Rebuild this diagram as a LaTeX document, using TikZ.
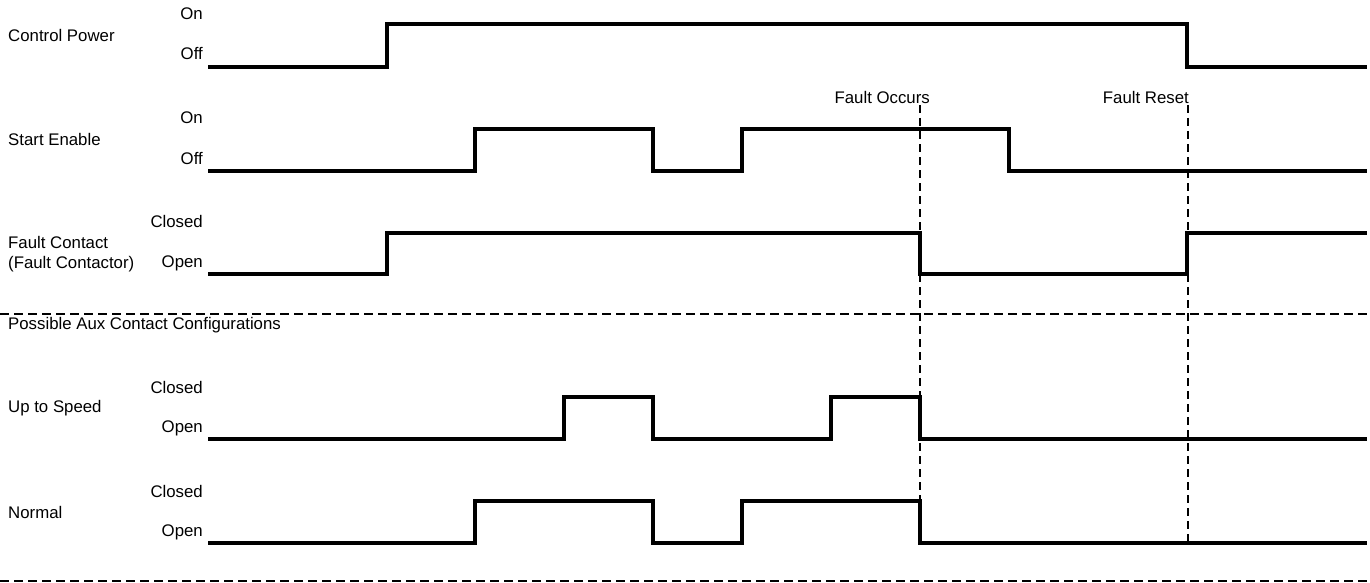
\documentclass[tikz,border=0pt]{standalone}
\usepackage{fontspec}
\setmainfont{Liberation Sans}
\usetikzlibrary{positioning}

\begin{document}
\begin{tikzpicture}[x=1pt, y=-1pt, font=\fontsize{16.8}{20}\selectfont]
    \tikzstyle{signal} = [draw, line width=4.2pt, line join=miter]
    \tikzstyle{divider} = [draw, line width=1.3pt, dash pattern=on 9pt off 5pt]
    \tikzstyle{marker} = [draw, line width=1.3pt, dash pattern=on 8pt off 5pt]
    \tikzstyle{signame} = [anchor=west, inner sep=0pt, align=left]
    \tikzstyle{levelname} = [anchor=east, inner sep=0pt]
    \tikzstyle{eventname} = [anchor=east, inner sep=0pt]

    \useasboundingbox (0,0) rectangle (1370,583);

    % signal names
    \node [signame] (power) at (8,35) {Control Power};
    \node [signame] (enable) at (8,139) {Start Enable};
    \node [signame] (fault) at (8,254) {Fault Contact\\(Fault Contactor)};
    \node [signame] (aux) at (8,325) {Possible Aux Contact Configurations};
    \node [signame] (speed) at (8,408) {Up to Speed};
    \node [signame] (normal) at (8,512) {Normal};

    % signal levels
    \node [levelname] (power on) at (203,14) {On};
    \node [levelname] (power off) at (203,54) {Off};
    \node [levelname] (enable on) at (203,118) {On};
    \node [levelname] (enable off) at (203,159) {Off};
    \node [levelname] (fault closed) at (203,221) {Closed};
    \node [levelname] (fault open) at (203,263) {Open};
    \node [levelname] (speed closed) at (203,387) {Closed};
    \node [levelname] (speed open) at (203,428) {Open};
    \node [levelname] (normal closed) at (203,491) {Closed};
    \node [levelname] (normal open) at (203,532) {Open};

    % events
    \node [eventname] (occurs) at (930,97) {Fault Occurs};
    \node [eventname] (reset) at (1189,97) {Fault Reset};

    % waveforms
    \path [signal] (208,67) -| (387,24) -| (1187,67) -- (1367,67);
    \path [signal] (208,171) -| (475,129) -| (653,171) -| (742,129) -| (1009,171) -- (1367,171);
    \path [signal] (208,274) -| (387,233) -| (920,274) -| (1187,233) -- (1367,233);
    \path [signal] (208,439) -| (564,397) -| (653,439) -| (831,397) -| (920,439) -- (1367,439);
    \path [signal] (208,543) -| (475,501) -| (653,543) -| (742,501) -| (920,543) -- (1367,543);

    % section dividers and event markers
    \path [divider] (0,314) -- (1370,314);
    \path [divider] (0,581) -- (1370,581);
    \path [marker] (920,105) -- (920,543);
    \path [marker] (1188,105) -- (1188,543);
\end{tikzpicture}
\end{document}
